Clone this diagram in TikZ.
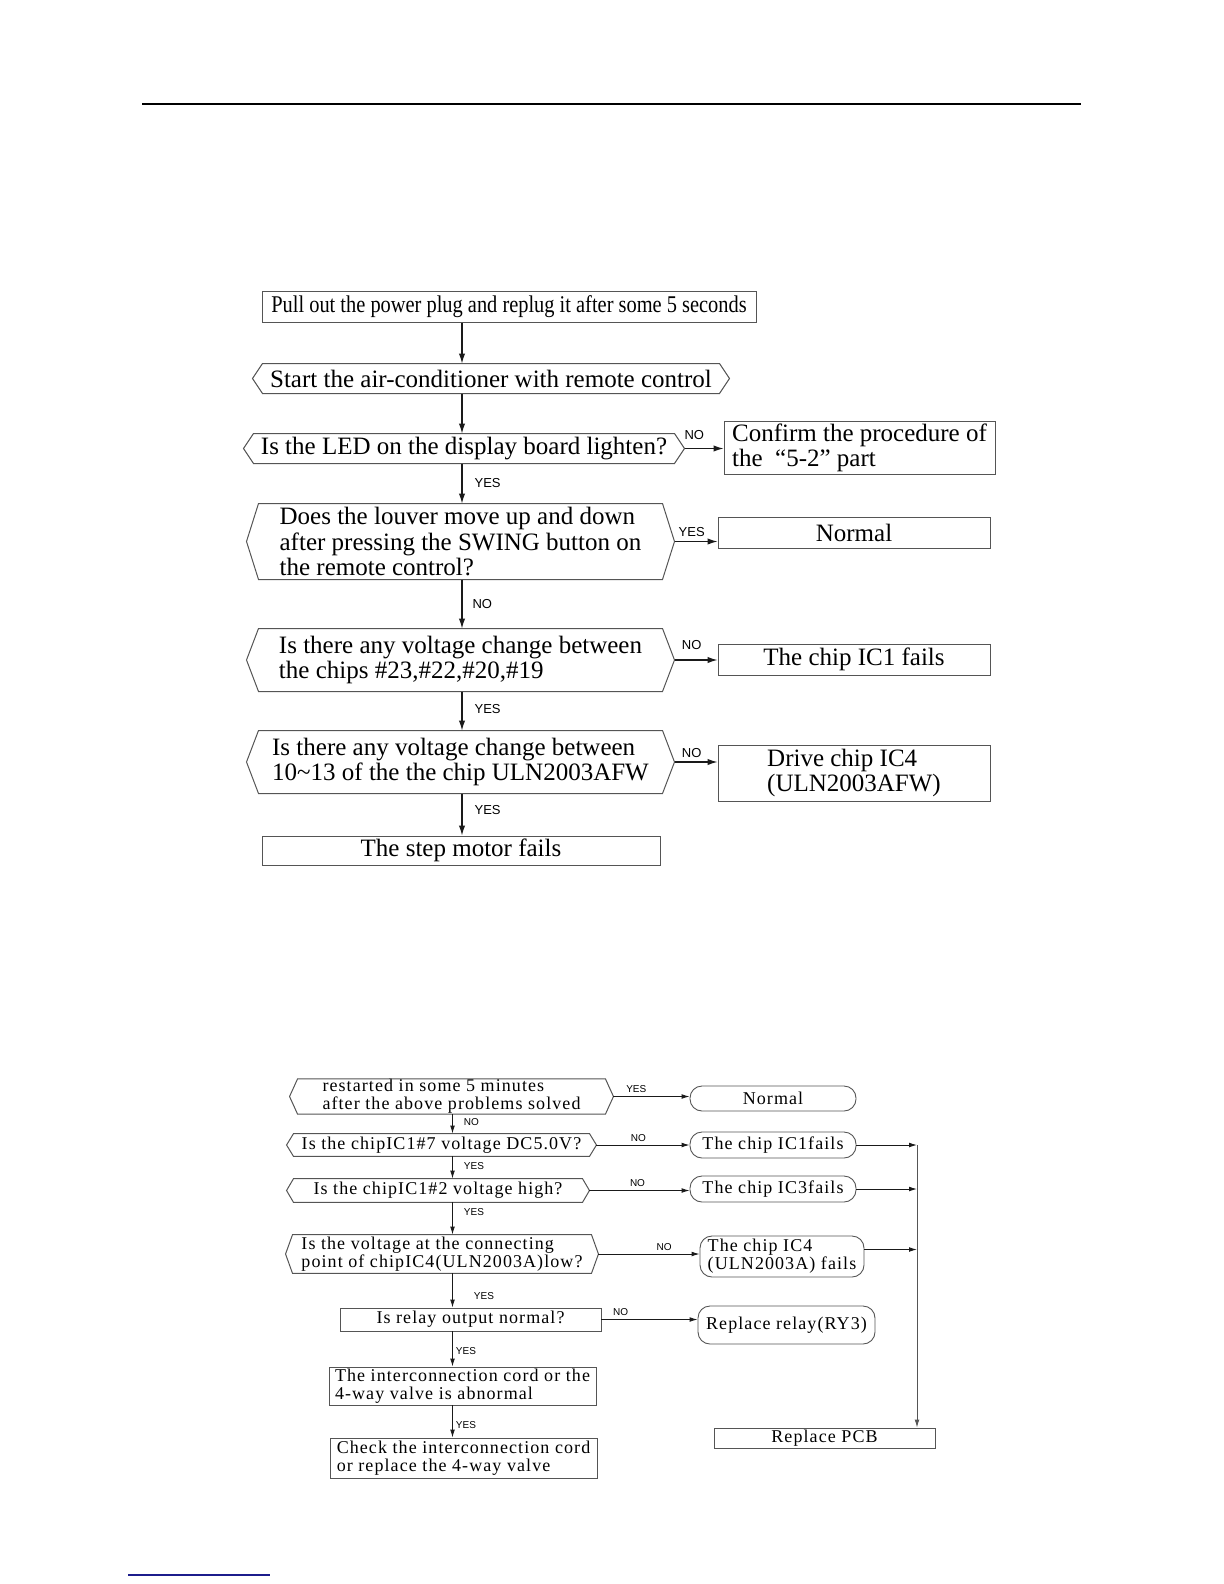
\documentclass[tikz,border=0pt]{standalone}
\usepackage{fontspec}
\setmainfont{Liberation Serif}
\newfontfamily\flowfont{Liberation Serif}[FakeStretch=0.85]
\newfontfamily\spacedfont{Liberation Serif}[LetterSpace=6]
\newfontfamily\tagfont{Liberation Sans}
\usetikzlibrary{positioning,arrows.meta,calc}
\definecolor{lineDark}{HTML}{1A1A1A}
\definecolor{boxEdge}{HTML}{555555}
\definecolor{footBlue}{HTML}{1C1C8C}
\newcommand{\hexFrame}[2]{%
  \draw[hex edge] (#1.north west) -- (#1.north east)
    -- ([xshift=#2]#1.east) coordinate (#1-tip)
    -- (#1.south east) -- (#1.south west)
    -- ([xshift=-#2]#1.west) -- cycle;%
}
\tikzset{
  hex edge/.style={draw=boxEdge,line width=0.5pt},
  big box/.style={draw=boxEdge,line width=0.5pt,inner sep=0pt,align=left,
                  font=\fontsize{12.5}{12.6}\selectfont},
  big hex/.style={big box,draw=none},
  small box/.style={draw=boxEdge,line width=0.45pt,inner sep=0pt,align=left,
                    font=\spacedfont\fontsize{9}{9}\selectfont},
  small hex/.style={small box,draw=none},
  small pill/.style={small box,rounded corners=6pt},
  big arrow/.style={draw=lineDark,line width=0.6pt,-{Latex[length=5pt,width=3.2pt]}},
  small arrow/.style={draw=lineDark,line width=0.45pt,-{Latex[length=4pt,width=2.4pt]}},
  big tag/.style={font=\tagfont\fontsize{6.5}{7}\selectfont,inner sep=2pt},
  small tag/.style={font=\tagfont\fontsize{5}{6}\selectfont,inner sep=1.5pt},
}

\begin{document}
\begin{tikzpicture}[x=0.5pt,y=-0.5pt]
  \useasboundingbox (0,0) rectangle (1224,1584);
  \draw[line width=0.8pt] (142,104) -- (1081,104);
  \draw[footBlue,line width=0.8pt] (128,1575) -- (270,1575);

  % upper chart
  \coordinate (colA) at (462,0);
  \node[big box,font=\flowfont\fontsize{12}{12.6}\selectfont,
        minimum width=247pt,minimum height=15.5pt] (plug) at (509,306.5)
    {Pull out the power plug and replug it after some 5 seconds};
  \node[big hex,minimum width=228pt,minimum height=14.5pt] (start) at (491,378.5)
    {Start the air-conditioner with remote control};
  \node[big hex,minimum width=210pt,minimum height=14.5pt] (led) at (464,448.5)
    {Is the LED on the display board lighten?};
  \node[big box,minimum width=135.5pt,minimum height=26.5pt] (confirm) at (859.5,447.5)
    {Confirm the procedure of\\the \ “5-2” part};
  \node[big hex,minimum width=201.5pt,minimum height=37.5pt] (louver) at (460.5,541.5)
    {Does the louver move up and down\\after pressing the SWING button on\\the remote control?};
  \node[big box,minimum width=136pt,minimum height=15.5pt] (normal) at (854,532.5) {Normal};
  \node[big hex,minimum width=201.5pt,minimum height=31pt] (volt) at (460.5,660)
    {Is there any voltage change between\\the chips \#23,\#22,\#20,\#19};
  \node[big box,minimum width=136pt,minimum height=15.5pt] (icone) at (854,659.5)
    {The chip IC1 fails};
  \node[big hex,minimum width=201.5pt,minimum height=31pt] (uln) at (460.5,762)
    {Is there any voltage change between\\10\textasciitilde13 of the the chip ULN2003AFW};
  \node[big box,minimum width=136pt,minimum height=28pt] (drive) at (854,773)
    {Drive chip IC4\\(ULN2003AFW)};
  \node[big box,minimum width=199pt,minimum height=14.5pt] (motor) at (461,850.5)
    {The step motor fails};
  \hexFrame{start}{5pt}
  \hexFrame{led}{5pt}
  \hexFrame{louver}{6pt}
  \hexFrame{volt}{6pt}
  \hexFrame{uln}{6pt}

  \draw[big arrow] (plug.south -| colA) -- (start.north -| colA);
  \draw[big arrow] (start.south -| colA) -- (led.north -| colA);
  \draw[big arrow] (led.south -| colA) -- node[big tag,right=4pt,pos=0.5] {YES} (louver.north -| colA);
  \draw[big arrow] (louver.south -| colA) -- node[big tag,right=3pt,pos=0.5] {NO} (volt.north -| colA);
  \draw[big arrow] (volt.south -| colA) -- node[big tag,right=4pt,pos=0.45] {YES} (uln.north -| colA);
  \draw[big arrow] (uln.south -| colA) -- node[big tag,right=4pt,pos=0.4] {YES} (motor.north -| colA);
  \draw[big arrow] (led-tip) -- node[big tag,above=2pt,pos=0.25] {NO} (confirm.west |- led-tip);
  \draw[big arrow] (louver-tip) -- node[big tag,above,pos=0.4] {YES} (normal.west |- louver-tip);
  \draw[big arrow] (volt-tip) -- node[big tag,above=3pt,pos=0.4] {NO} (icone.west |- volt-tip);
  \draw[big arrow] (uln-tip) -- node[big tag,above,pos=0.4] {NO} (drive.west |- uln-tip);

  % lower chart
  \coordinate (colB) at (452.5,0);
  \coordinate (bus) at (917,1145);
  \node[small hex,minimum width=153.5pt,minimum height=16.5pt] (restart) at (451.5,1096.5)
    {restarted in some 5 minutes\\after the above problems solved};
  \node[small pill,minimum width=83pt,minimum height=12.5pt] (normalb) at (773,1098.5) {Normal};
  \node[small hex,minimum width=147.5pt,minimum height=11pt] (dcfive) at (441.5,1145)
    {Is the chipIC1\#7 voltage DC5.0V?};
  \node[small pill,minimum width=83pt,minimum height=13pt] (iconeb) at (773,1145)
    {The chip IC1fails};
  \node[small hex,minimum width=144pt,minimum height=11.5pt] (high) at (438,1190.5)
    {Is the chipIC1\#2 voltage high?};
  \node[small pill,minimum width=83pt,minimum height=13pt] (icthree) at (773,1189)
    {The chip IC3fails};
  \node[small hex,minimum width=149pt,minimum height=19pt] (lowpt) at (442,1254)
    {Is the voltage at the connecting\\point of chipIC4(ULN2003A)low?};
  \node[small pill,minimum width=82pt,minimum height=20.5pt] (icfour) at (782,1256.5)
    {The chip IC4\\(ULN2003A) fails};
  \node[small box,minimum width=130.5pt,minimum height=11.5pt] (relay) at (470.5,1319.5)
    {Is relay output normal?};
  \node[small pill,minimum width=88.5pt,minimum height=19pt] (ry) at (786.5,1325)
    {Replace relay(RY3)};
  \node[small box,minimum width=133.5pt,minimum height=19pt] (cord) at (462.5,1386)
    {The interconnection cord or the\\4-way valve is abnormal};
  \node[small box,minimum width=133.5pt,minimum height=20pt] (check) at (463.5,1458)
    {Check the interconnection cord\\or replace the 4-way valve};
  \node[small box,minimum width=110.5pt,minimum height=10pt] (pcb) at (824.5,1438)
    {Replace PCB};
  \hexFrame{restart}{4pt}
  \hexFrame{dcfive}{3.5pt}
  \hexFrame{high}{3.5pt}
  \hexFrame{lowpt}{3.5pt}

  \draw[small arrow] (restart.south -| colB) -- node[small tag,right=4pt,pos=0.4] {NO} (dcfive.north -| colB);
  \draw[small arrow] (dcfive.south -| colB) -- node[small tag,right=4pt,pos=0.45] {YES} (high.north -| colB);
  \draw[small arrow] (high.south -| colB) -- node[small tag,right=4pt,pos=0.3] {YES} (lowpt.north -| colB);
  \draw[small arrow] (lowpt.south -| colB) -- node[small tag,right=9pt,pos=0.65] {YES} (relay.north -| colB);
  \draw[small arrow] (relay.south -| colB) -- node[small tag,right,pos=0.55] {YES} (cord.north -| colB);
  \draw[small arrow] (cord.south -| colB) -- node[small tag,right,pos=0.6] {YES} (check.north -| colB);
  \draw[small arrow] (restart-tip) -- node[small tag,above,pos=0.3] {YES} (normalb.west |- restart-tip);
  \draw[small arrow] (dcfive-tip) -- node[small tag,above,pos=0.45] {NO} (iconeb.west |- dcfive-tip);
  \draw[small arrow] (high-tip) -- node[small tag,above,pos=0.48] {NO} (icthree.west |- high-tip);
  \draw[small arrow] (lowpt-tip) -- node[small tag,above,pos=0.65] {NO} (icfour.west |- lowpt-tip);
  \draw[small arrow] (relay.east) -- node[small tag,above,pos=0.2] {NO} (ry.west |- relay.east);
  \foreach \n in {iconeb,icthree}
    \draw[small arrow] (\n.east) -- (\n.east -| bus);
  \draw[small arrow] ([yshift=3.5pt]icfour.east) -- ([yshift=3.5pt]icfour.east -| bus);
  \draw[small arrow,draw=boxEdge] (bus) -- (pcb.north -| bus);
\end{tikzpicture}
\end{document}
